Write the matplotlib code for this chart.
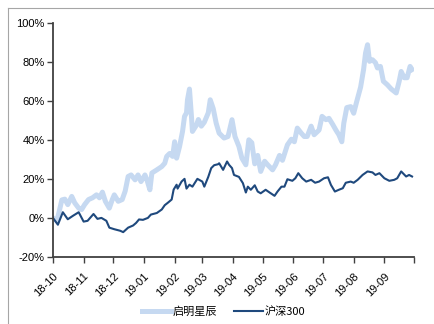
import pandas as pd
import matplotlib.pyplot as plt
from matplotlib.lines import Line2D

plt.rcParams["font.family"] = ["Liberation Sans", "Noto Sans CJK SC", "DejaVu Sans"]

start = pd.Timestamp("2018-10-01")

# 启明星辰: days after 2018-10-01 and cumulative return (%)
qm_days = [0, 4, 6, 9, 12, 15, 19, 22, 26, 29, 32, 36, 40, 44, 47, 50, 53, 57, 60, 62,
           66, 70, 73, 76, 79, 83, 86, 89, 93, 95, 98, 100, 105, 110, 113, 115, 118, 121,
           123, 125, 128, 131, 133, 135, 136, 138, 140, 141, 145, 147, 150, 153, 157, 159,
           162, 165, 168, 173, 177, 181, 184, 188, 191, 195, 198, 201, 204, 207, 210, 214,
           217, 222, 225, 229, 232, 237, 241, 244, 247, 251, 254, 257, 261, 264, 269, 272,
           276, 279, 283, 286, 289, 292, 294, 297, 301, 304, 307, 311, 314, 316, 318, 320,
           323, 326, 328, 331, 334, 338, 342, 347, 350, 352, 355, 358, 361, 363]
qm_vals = [0, -1.5, 2.6, 9.2, 9.6, 6.8, 11, 7.7, 5, 4.3, 6.8, 9.4, 10.3, 11.8, 10.3, 13.2,
           8.5, 5, 9.4, 11.8, 8.5, 9.4, 13.7, 21.2, 22, 19.5, 22, 18.6, 22, 19.5, 14.4, 23,
           24.6, 26.3, 28, 31.5, 33, 31.5, 39, 30.6, 36.6, 44.3, 52, 53.8, 60.5, 66, 52,
           44.3, 47.5, 50.4, 47, 49, 53.8, 60.5, 56, 48.5, 43.4, 40.9, 41.7, 50.3, 41.7,
           36.6, 30.6, 27.2, 40, 38.5, 27.7, 32, 23.8, 29, 27.2, 24.6, 27.2, 32, 29.5, 37.4,
           40.3, 39, 46, 43.4, 41.7, 41.7, 47, 42.6, 45, 52, 50.3, 51, 47.7, 45, 42.6, 39,
           48.5, 56.5, 57, 53.6, 59.5, 67, 76, 84.5, 88.7, 80.2, 81, 79.5, 76.8, 77.6, 70,
           68.2, 66, 64, 70, 75, 71.8, 71.8, 77.6, 76]

# 沪深300
hs_days = [0, 5, 10, 15, 20, 26, 31, 35, 41, 45, 49, 54, 57, 62, 68, 71, 76, 81, 84, 87,
           91, 96, 99, 105, 110, 113, 116, 120, 122, 125, 126, 130, 133, 135, 138, 141, 146,
           151, 153, 157, 160, 163, 167, 168, 172, 176, 178, 181, 183, 188, 192, 195, 197,
           200, 204, 207, 210, 215, 219, 224, 227, 231, 234, 237, 242, 245, 248, 252, 256,
           261, 265, 269, 274, 278, 281, 285, 289, 293, 296, 301, 304, 308, 313, 318, 323,
           326, 330, 335, 340, 345, 348, 352, 357, 360, 363]
hs_vals = [0, -3.5, 2.9, -0.7, 1.0, 2.9, -1.9, -1.5, 2.0, -0.5, 0, -1.5, -5.0, -5.8, -6.6,
           -7.3, -5.0, -3.9, -2.6, -0.8, -1.0, 0, 1.7, 2.5, 4.3, 6.5, 7.7, 9.4, 14.5, 17, 15,
           18.6, 20, 15, 17, 16, 20, 18.6, 16, 21, 25.5, 27, 27.5, 28, 24.6, 28.9, 27.2,
           25.5, 22, 21, 17.8, 13, 16, 14.4, 16.7, 13.5, 12.6, 14.4, 13, 11.3, 13.5, 16, 16,
           19.8, 19, 20.3, 22.9, 20.3, 18.6, 19.5, 18, 18.6, 20.3, 20.8, 16.9, 13.5, 14.4,
           15.2, 18, 18.6, 18, 19.5, 22, 23.8, 23.3, 22, 22.9, 20.3, 19, 19.5, 20.3, 23.8,
           21.2, 22, 21.2]

month_labels = ["18-10", "18-11", "18-12", "19-01", "19-02", "19-03",
                "19-04", "19-05", "19-06", "19-07", "19-08", "19-09"]

light = "#c6d9f1"
dark = "#1f497d"
axis_col = "#404040"


def main():
    qm_x = start + pd.to_timedelta(qm_days, unit="D")
    hs_x = start + pd.to_timedelta(hs_days, unit="D")

    fig = plt.figure(figsize=(4.34, 3.24), dpi=100)
    ax = fig.add_axes([0.122, 0.207, 0.832, 0.723])

    ax.plot(qm_x, [v / 100 for v in qm_vals], color=light, lw=3.6, solid_joinstyle="round")
    ax.plot(hs_x, [v / 100 for v in hs_vals], color=dark, lw=1.5)

    ax.set_ylim(-0.2, 1.0)
    yt = [-0.2, 0, 0.2, 0.4, 0.6, 0.8, 1.0]
    ax.set_yticks(yt)
    ax.set_yticklabels([f"{int(round(v * 100))}%" for v in yt], fontsize=8)

    ticks = list(pd.date_range("2018-10-01", periods=13, freq="MS"))
    ax.set_xlim(ticks[0], ticks[-1])
    ax.set_xticks(ticks)
    ax.set_xticklabels(month_labels + [""], rotation=45, ha="right",
                       rotation_mode="anchor", fontsize=8)

    for s in ["top", "right"]:
        ax.spines[s].set_visible(False)
    for s in ["left", "bottom"]:
        ax.spines[s].set_color(axis_col)
        ax.spines[s].set_linewidth(1.3)
    ax.tick_params(axis="both", direction="out", length=4, width=1.0,
                   color=axis_col, labelcolor="black", pad=2)
    ax.tick_params(axis="x", pad=6)

    handles = [Line2D([], [], color=light, lw=3.6), Line2D([], [], color=dark, lw=1.5)]
    fig.legend(handles, ["启明星辰", "沪深300"], loc="center", bbox_to_anchor=(0.515, 0.037),
               ncol=2, frameon=False, handlelength=2.6, handletextpad=0.15,
               columnspacing=1.5,
               prop={"family": ["Noto Sans CJK SC", "Liberation Sans"], "size": 8})

    # outer frame (top and left only)
    fig.add_artist(Line2D([8 / 434, 1], [1 - 8 / 324, 1 - 8 / 324],
                          transform=fig.transFigure, color="#a6a6a6", lw=0.8))
    fig.add_artist(Line2D([8 / 434, 8 / 434], [0, 1 - 8 / 324],
                          transform=fig.transFigure, color="#a6a6a6", lw=0.8))

    fig.savefig("out.png", dpi=100)


if __name__ == "__main__":
    main()
